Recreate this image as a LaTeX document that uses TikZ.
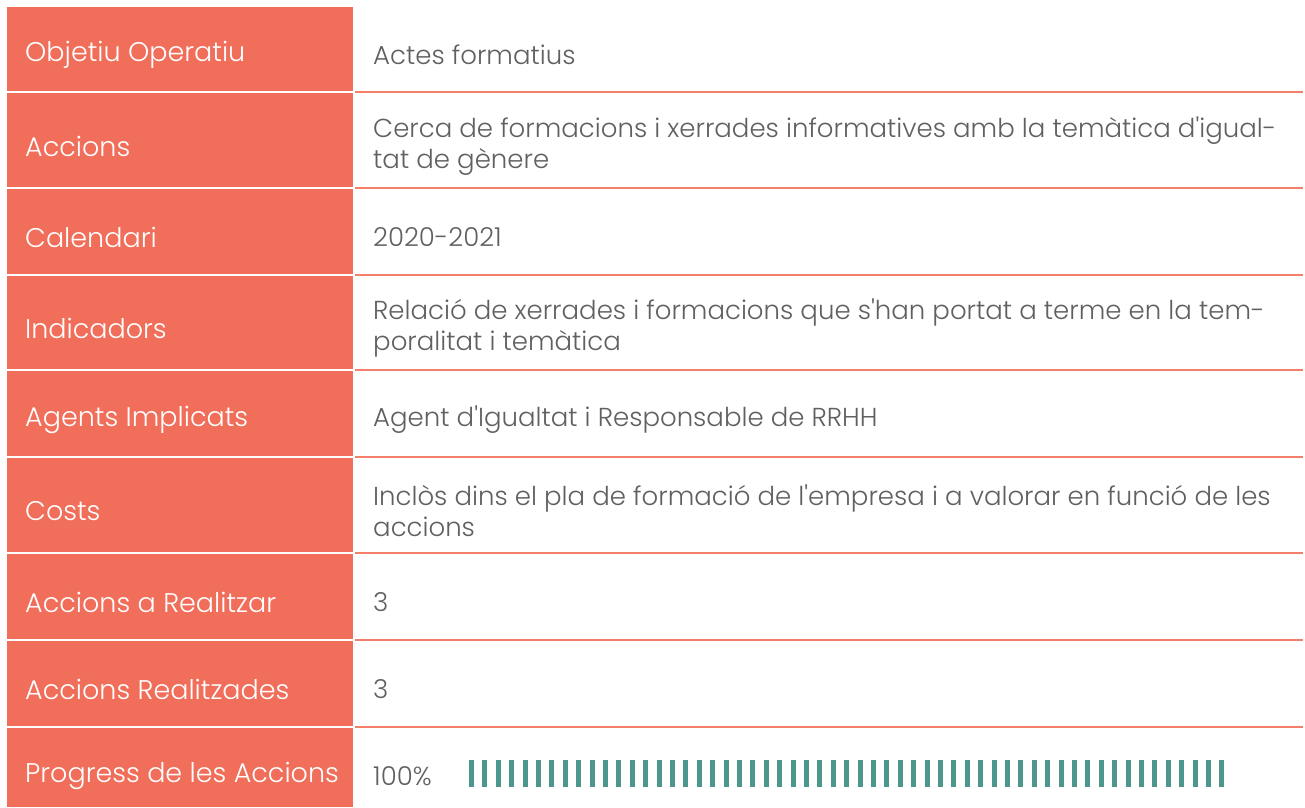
\documentclass[tikz,border=0pt]{standalone}
\usepackage{fontspec}
\setmainfont{Poppins}[UprightFont=* Light, Ligatures=TeXOff]
\definecolor{coral}{HTML}{F06E5A}
\definecolor{coralline}{HTML}{F4806C}
\definecolor{greytext}{HTML}{606060}
\definecolor{barteal}{HTML}{4B978C}
\tikzset{
  labtext/.style={anchor=west, text=white, font=\fontsize{27}{31}\selectfont, inner sep=0pt, yshift=-6pt},
  valtext/.style={anchor=west, text=greytext, font=\fontsize{26}{31}\selectfont, inner sep=0pt, align=left, yshift=-6pt},
}

\begin{document}
\begin{tikzpicture}[x=1pt,y=-1pt]
    \useasboundingbox[fill=white] (0,0) rectangle (1305,807);
    % top / bottom / label / value
    \foreach \i/\t/\b/\lab/\val in {
        1/7/91/Objetiu Operatiu/Actes formatius,
        2/93/187/Accions/{Cerca de formacions i xerrades informatives amb la temàtica d'igual-\\tat de gènere},
        3/189/274/Calendari/2020-2021,
        4/276/369/Indicadors/{Relació de xerrades i formacions que s'han portat a terme en la tem-\\poralitat i temàtica},
        5/371/456/Agents Implicats/Agent d'Igualtat i Responsable de RRHH,
        6/458/552/Costs/{Inclòs dins el pla de formació de l'empresa i a valorar en funció de les\\accions},
        7/554/639/Accions a Realitzar/3,
        8/641/726/Accions Realitzades/3,
        9/728/812/Progress de les Accions/100\%}
    {
        \fill[coral] (7,\t) rectangle (353,{min(\b,807)});
        \node[labtext] (lab\i) at (25,{(\t+\b)/2}) {\lab};
        \node[valtext] (val\i) at (373,{(\t+\b)/2}) {\val};
    }
    % row rules on the right
    \foreach \y in {92,188,275,370,457,553,640,727}
        \draw[coralline, line width=1.8pt] (355,\y) -- (1303,\y);
    % progress bar
    \foreach \k in {0,...,56}
        \fill[barteal] ({469+13.4*\k},760) rectangle +(5,27);
\end{tikzpicture}
\end{document}
